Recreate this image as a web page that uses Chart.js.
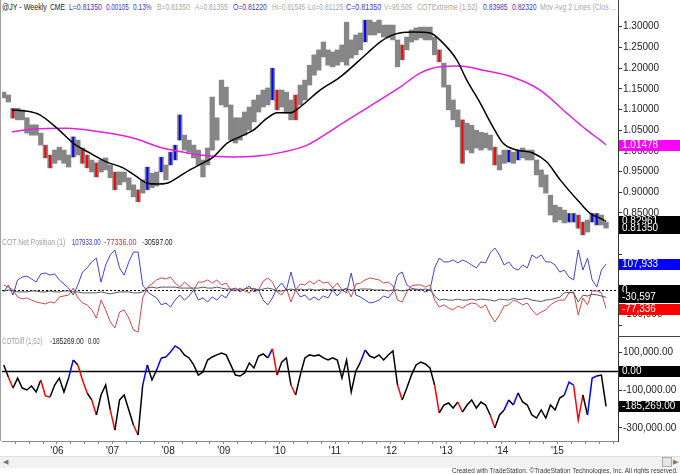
<!DOCTYPE html>
<html>
<head>
<meta charset="utf-8">
<title>JY weekly COT</title>
<script src="https://cdn.jsdelivr.net/npm/chart.js@4.4.1/dist/chart.umd.min.js"></script>
<style>
  body { margin: 0; background: #fff; }
  #wrap { position: relative; width: 680px; height: 474px; overflow: hidden; background: #fff;
          font-family: "Liberation Sans", Arial, sans-serif; }
  .t { position: absolute; font-size: 9px; line-height: 11px; white-space: nowrap; transform-origin: 0 50%; }
  canvas { position: absolute; left: 0; }
  .ln { position: absolute; background: #444; }
</style>
</head>
<body>
<div id="wrap">
  <div id="hdr"></div>
  <canvas id="price" width="680" height="222" style="top:16px"></canvas>
  <canvas id="cot" width="680" height="98" style="top:238px"></canvas>
  <canvas id="diff" width="680" height="138" style="top:336px"></canvas>
  <div class="ln" style="left:0;top:0;width:1px;height:441px;background:#a0a0a0"></div>
  <div class="ln" style="left:618px;top:0;width:1px;height:16px"></div>
  <div class="ln" style="left:618px;top:336px;width:62px;height:1px"></div>
  <div id="lblCot"></div>
  <div id="lblDiff"></div>
  <div style="position:absolute;left:0;top:456px;width:680px;height:11px;background:#f2f2f2;border-top:1px solid #e0e0e0"></div>
  <span style="position:absolute;left:3px;top:457px;font-size:7px;line-height:9px;color:#777">&#9664;</span>
  <span style="position:absolute;left:673px;top:457px;font-size:7px;line-height:9px;color:#777">&#9654;</span>
  <div style="position:absolute;left:662px;top:457px;width:8px;height:8px;border:1px solid #aaa;background:#e6e6e6"></div>
  <div id="credit"></div>
</div>
<script>
// monthly samples, first one is Jan 2005 (mid-month)
const START_YEAR = 2005;
const X_MIN = 2005.0108, X_MAX = 2016.0899;

// weekly bars summarised per month: high / low
const priceHigh = [
  1.142,1.135,1.103,1.103,1.099,1.080,1.063,1.063,1.043,1.014,0.990,1.002,
  1.009,1.002,0.990,1.034,1.026,1.007,0.990,0.978,0.971,0.978,0.983,0.966,
  0.949,0.949,0.949,0.935,0.918,0.906,0.930,0.961,0.946,0.949,0.985,0.966,
  0.997,1.014,1.087,1.038,1.026,1.014,1.002,0.978,1.007,1.130,1.080,1.171,
  1.154,1.111,1.080,1.080,1.094,1.106,1.123,1.135,1.147,1.152,1.200,1.147,
  1.147,1.142,1.123,1.135,1.159,1.171,1.207,1.232,1.244,1.263,1.244,1.239,
  1.244,1.256,1.311,1.268,1.280,1.285,1.316,1.316,1.311,1.316,1.304,1.304,
  1.304,1.268,1.256,1.275,1.292,1.297,1.299,1.299,1.299,1.275,1.244,1.212,
  1.159,1.123,1.099,1.075,1.067,1.062,1.050,1.045,1.043,1.038,1.009,0.990,
  1.002,1.002,0.997,1.002,1.007,1.002,1.002,0.978,0.954,0.942,0.893,0.869,
  0.864,0.857,0.849,0.849,0.845,0.828,0.833,0.849,0.849,0.845,0.828
];
const priceLow = [
  1.128,1.118,1.079,1.075,1.075,1.043,1.038,1.038,1.014,0.983,0.959,0.970,
  0.978,0.970,0.961,0.985,0.990,0.970,0.959,0.949,0.937,0.949,0.954,0.935,
  0.906,0.918,0.925,0.906,0.889,0.877,0.898,0.906,0.911,0.915,0.949,0.930,
  0.966,0.978,1.026,1.002,0.997,0.983,0.966,0.937,0.966,1.002,1.026,1.111,
  1.106,1.026,1.019,1.026,1.038,1.050,1.070,1.094,1.106,1.111,1.123,1.099,
  1.106,1.091,1.075,1.075,1.111,1.123,1.159,1.183,1.195,1.227,1.207,1.203,
  1.207,1.215,1.207,1.224,1.232,1.244,1.263,1.280,1.280,1.285,1.275,1.273,
  1.268,1.203,1.220,1.244,1.263,1.268,1.273,1.268,1.268,1.232,1.215,1.154,
  1.099,1.075,1.058,0.970,1.002,0.995,1.007,1.002,1.007,1.002,0.966,0.954,
  0.970,0.973,0.970,0.978,0.983,0.978,0.978,0.942,0.913,0.898,0.845,0.828,
  0.833,0.826,0.828,0.828,0.813,0.797,0.804,0.828,0.821,0.821,0.8135
];
const LAST_CLOSE = 0.8135;

// COTExtreme colouring (month indexes)
const redMonths = [2, 9, 10, 17, 18, 20, 24, 29, 59, 63, 86, 94, 99, 106, 124, 125];
const blueMonths = [15, 31, 34, 36, 37, 38, 58, 78, 109, 111, 122, 123, 127, 128];

// moving averages (decimal year, price)
const maFastT = [2005.19,2005.46,2005.69,2006.00,2006.29,2006.59,2006.90,2007.19,2007.44,2007.62,2007.80,2007.98,
  2008.16,2008.39,2008.63,2008.81,2009.06,2009.29,2009.53,2009.78,2009.96,2010.19,2010.37,2010.73,2011.09,2011.58,
  2011.81,2012.08,2012.40,2012.71,2012.94,2013.19,2013.37,2013.61,2013.84,2014.02,2014.27,2014.56,2014.81,2015.05,
  2015.41,2015.59,2015.77,2015.875];
const maFast = [1.099,1.096,1.087,1.055,1.019,0.995,0.973,0.959,0.937,0.922,0.920,0.922,
  0.935,0.954,0.971,0.985,1.019,1.034,1.050,1.079,1.092,1.092,1.106,1.147,1.178,1.236,
  1.263,1.282,1.287,1.285,1.261,1.220,1.171,1.116,1.058,1.019,1.002,0.995,0.973,0.930,
  0.874,0.849,0.837,0.82961];
const maSlowT = [2005.19,2005.57,2006.18,2006.77,2007.37,2007.85,2008.16,2008.57,2009.17,2009.65,2010.06,2010.50,
  2010.86,2011.09,2011.58,2012.17,2012.53,2012.89,2013.25,2013.66,2014.20,2014.69,2015.17,2015.53,2015.77,2015.875];
const maSlow = [1.046,1.053,1.055,1.046,1.031,1.009,1.000,0.990,0.985,0.988,0.997,1.014,
  1.043,1.063,1.104,1.154,1.188,1.203,1.205,1.195,1.178,1.147,1.091,1.050,1.026,1.01478];

// COT net positions, thousands of contracts
const netBlue = [
  -8,21,-21,42,54,58,46,33,67,71,62,67, 42,25,8,-21,21,75,92,117,133,33,104,146,
  167,92,62,117,158,158,21,-8,-21,-33,-62,-54, -71,-42,-21,-42,-25,0,-42,-33,-50,-29,-42,-21,
  -33,0,8,-8,4,17,-8,0,-42,-62,-33,8, 29,0,75,0,-29,-21,-42,-29,-42,-25,-33,0,
  -25,0,-12,71,-21,-29,-42,-54,-50,-42,-25,-33, -8,62,75,21,8,0,4,-8,0,92,133,117,
  117,125,113,125,117,104,92,117,113,154,175,146, 104,117,92,83,104,92,146,133,146,117,117,104,
  75,83,54,42,167,83,133,42,12,83,107.933
];
const netRed = [
  21,12,0,-29,-37,-33,-42,-50,-54,-58,-50,-54, -29,-25,-21,8,-33,-54,-62,-83,-117,-42,-83,-133,
  -158,-92,-83,-117,-167,-175,-33,12,25,42,50,46, 54,29,12,33,17,0,33,33,42,29,42,21,
  29,0,-4,8,-4,-12,8,0,37,50,33,-8, -21,8,-50,0,25,21,37,25,42,29,33,8,
  29,0,8,-29,25,29,42,50,46,42,29,33, 17,-42,-50,-8,17,21,21,12,21,-42,-71,-62,
  -75,-83,-67,-75,-62,-54,-58,-75,-62,-104,-133,-104, -67,-62,-42,-50,-62,-54,-83,-104,-92,-83,-62,-50,
  -42,-42,-12,-8,-104,-33,-62,-4,-4,-12,-77.336
];
const netBlack = [
  -4,0,-4,-8,-8,-8,-4,-4,-8,-8,-4,-8, -8,-4,-4,-8,-8,-12,-12,-12,-12,-8,-12,-16,
  -12,-8,-8,-8,-12,-12,-8,8,12,8,12,12, 12,12,8,8,8,8,8,12,8,8,12,8,
  4,4,4,0,4,8,4,0,4,8,4,-4, -4,0,4,0,4,0,4,0,0,4,0,4,
  0,0,4,0,0,4,4,4,0,0,0,-4, 0,0,-4,0,4,4,0,4,0,-25,-42,-38,
  -42,-42,-38,-42,-42,-38,-42,-38,-40,-42,-46,-38, -40,-42,-35,-40,-38,-35,-42,-45,-48,-42,-40,-35,
  -30,-12,-10,-12,-50,-22,-25,-18,-20,-25,-30.597
];
// COTDiff (1,52), thousands
const cotDiff = [
  35,-29,-88,-35,-88,-98,-77,-109,-45,-130,-135,-72, -35,-109,-35,61,35,-45,-114,-151,-231,-125,-72,-204,
  -311,-151,-125,-204,-284,-337,-72,35,-45,8,72,77, 104,136,120,88,72,35,-19,-3,61,77,88,98,
  88,35,-19,-24,-8,45,19,82,93,72,120,-19, 50,72,-72,-125,-19,72,88,82,88,72,61,72,
  61,-35,61,-109,3,50,114,82,72,88,61,88, 109,-72,-151,-88,-19,35,50,40,19,-72,-220,-178,
  -167,-194,-162,-215,-178,-151,-194,-162,-178,-231,-300,-231, -204,-151,-178,-114,-162,-178,-231,-247,-204,-247,-178,-204,
  -141,-125,-56,-72,-258,-125,-231,-35,-24,-19,-185.269
];

const priceTicks = [0.85,0.90,0.95,1.00,1.05,1.10,1.15,1.20,1.25,1.30];
const cotTicks = [150000,100000,0,-100000,-150000];
const cotLabelled = [100000,0,-100000];
const diffTicks = [100000,0,-100000,-300000];
const yearTicks = [2006,2007,2008,2009,2010,2011,2012,2013,2014,2015];
const yearLabels = ["'06","'07","'08","'09","'10","'11","'12","'13","'14","'15"];

// text, left, width, colour
const header = [
  ['@JY - Weekly', 2, 45, '#222'], ['CME', 50, 15, '#222'], ['L=0.81350', 69, 33, '#3a3ab8'], ['0.00105', 106, 23, '#3a3ab8'],
  ['0.13%', 133, 19, '#3a3ab8'], ['B=0.81350', 157, 33, '#a8a8a8'], ['A=0.81355', 195, 33, '#a8a8a8'], ['O=0.81220', 233, 34, '#3a3ab8'],
  ['Hi=0.81545', 272, 33, '#a8a8a8'], ['Lo=0.81125', 308, 35, '#a8a8a8'], ['C=0.81350', 346, 35, '#3a3ab8'], ['V=95,509', 384, 28, '#a8a8a8'],
  ['COTExtreme (1,52)', 417, 61, '#a8a8a8'], ['0.83985', 483, 25, '#3a3ab8'], ['0.82320', 512, 25, '#3a3ab8'],
  ['Mov Avg 2 Lines (Clos ...', 540, 76, '#a8a8a8']
];

const FONT = '"Liberation Sans", Arial, sans-serif';
Chart.defaults.font.family = FONT;
Chart.defaults.font.size = 10;

const monthX = i => START_YEAR + (i + 0.5) / 12;
const flagColor = (i, base) => redMonths.includes(i) ? '#ff0000' : blueMonths.includes(i) ? '#0000ff' : base;
const k = v => v * 1000;
const fmt0 = v => Math.round(v).toLocaleString('en-US');
const fmt2 = v => v.toLocaleString('en-US', { minimumFractionDigits: 2, maximumFractionDigits: 2 });

// squeeze each text run into the width it has in the original
function putText(parentId, items, top, size) {
  const p = document.getElementById(parentId);
  items.forEach(([txt, x, w, col]) => {
    const s = document.createElement('span');
    s.className = 't';
    s.style.left = x + 'px';
    s.style.top = top + 'px';
    s.style.color = col;
    if (size) s.style.fontSize = size + 'px';
    s.textContent = txt;
    p.appendChild(s);
    s.style.transform = 'scaleX(' + (w / s.offsetWidth).toFixed(3) + ')';
  });
}
putText('hdr', header, 2);
putText('lblCot', [
  ['COT Net Position (1)', 2, 63, '#a0a0a0'],
  [k(netBlue.at(-1)).toFixed(2), 72, 29, '#3a3ab8'],
  [k(netRed.at(-1)).toFixed(2), 104, 33, '#cc3333'],
  [k(netBlack.at(-1)).toFixed(2), 142, 31, '#222']
], 237);
putText('lblDiff', [
  ['COTDiff (1,52)', 2, 40, '#a0a0a0'],
  [k(cotDiff.at(-1)).toFixed(2), 50, 34, '#222'],
  [(0).toFixed(2), 88, 12, '#222']
], 336);
putText('credit', [
  ['Created with TradeStation. \u00a9TradeStation Technologies, Inc. All rights reserved.', 452, 226, '#333']
], 465, 8);

// horizontal reference lines
const refLines = {
  id: 'refLines',
  beforeDatasetsDraw(chart, args, opts) {
    const { ctx, chartArea } = chart, ys = chart.scales.y;
    (opts.lines || []).forEach(l => {
      const y = Math.round(ys.getPixelForValue(l.value)) + 0.5;
      ctx.save();
      ctx.strokeStyle = l.color; ctx.lineWidth = l.width; ctx.setLineDash(l.dash || []);
      ctx.beginPath(); ctx.moveTo(chartArea.left, y); ctx.lineTo(chartArea.right, y); ctx.stroke();
      ctx.restore();
    });
  }
};
// last-value boxes on the price axis
const valueBoxes = {
  id: 'valueBoxes',
  afterDraw(chart, args, opts) {
    const ctx = chart.ctx, ys = chart.scales.y;
    ctx.save();
    ctx.font = '10px ' + FONT;
    ctx.textBaseline = 'middle';
    (opts.boxes || []).forEach(b => {
      const y = Math.round(ys.getPixelForValue(b.value));
      ctx.fillStyle = b.bg;
      ctx.fillRect(ys.left + 1, y - 5, chart.width - ys.left - 1, 11);
      ctx.fillStyle = '#fff';
      ctx.fillText(b.text, ys.left + 4, y + 0.5);
    });
    ctx.restore();
  }
};

function yAxis(min, max, ticks, fmt) {
  return {
    position: 'right', min, max,
    afterFit(s) { s.width = 62; s.paddingTop = 0; s.paddingBottom = 0; },
    afterBuildTicks(s) { s.ticks = ticks.map(v => ({ value: v })); },
    ticks: { callback: fmt, color: '#222', padding: 1, font: { size: 10 } },
    grid: { drawOnChartArea: false, drawTicks: true, tickLength: 4, color: '#333' },
    border: { display: true, color: '#333' }
  };
}
const hiddenX = { type: 'linear', min: X_MIN, max: X_MAX, display: false, offset: false };
function baseOptions(padBottom, scales, pluginOpts) {
  return {
    responsive: false, animation: false, devicePixelRatio: 1,
    layout: { autoPadding: false, padding: { left: 2, right: 0, top: 0, bottom: padBottom } },
    plugins: Object.assign({ legend: { display: false }, tooltip: { enabled: false } }, pluginOpts),
    scales
  };
}

const flagged = i => redMonths.includes(i) || blueMonths.includes(i);

// ---- price panel
new Chart(document.getElementById('price'), {
  type: 'bar',
  data: {
    datasets: [
      {
        type: 'bar', order: 4, grouped: false, barPercentage: 1, categoryPercentage: 1,
        data: priceHigh.map((h, i) => ({ x: monthX(i), y: [priceLow[i], h] })),
        backgroundColor: '#868686'
      },
      {
        type: 'bar', order: 3, grouped: false, barPercentage: 0.45, categoryPercentage: 1,
        data: priceHigh.map((h, i) => ({ x: monthX(i), y: flagged(i) ? [priceLow[i], h] : null })),
        backgroundColor: priceHigh.map((h, i) => flagColor(i, '#868686'))
      },
      {
        type: 'line', order: 1, borderColor: '#e020e0', borderWidth: 1.5, pointRadius: 0,
        cubicInterpolationMode: 'monotone',
        data: maSlowT.map((t, i) => ({ x: t, y: maSlow[i] }))
      },
      {
        type: 'line', order: 0, borderColor: '#000', borderWidth: 1.5, pointRadius: 0,
        cubicInterpolationMode: 'monotone',
        data: maFastT.map((t, i) => ({ x: t, y: maFast[i] }))
      }
    ]
  },
  options: baseOptions(0, {
    x: hiddenX,
    y: yAxis(0.78961, 1.32585, priceTicks, v => v.toFixed(5))
  }, {
    valueBoxes: { boxes: [
      { value: maSlow.at(-1), text: maSlow.at(-1).toFixed(5), bg: '#ff00ff' },
      { value: maFast.at(-1), text: maFast.at(-1).toFixed(5), bg: '#000' },
      { value: LAST_CLOSE, text: LAST_CLOSE.toFixed(5), bg: '#000' }
    ] }
  }),
  plugins: [valueBoxes]
});

// ---- COT net position panel
const lineSet = (arr, color) => ({
  borderColor: color, borderWidth: 1, pointRadius: 0, tension: 0,
  data: arr.map((v, i) => ({ x: monthX(i), y: k(v) }))
});
new Chart(document.getElementById('cot'), {
  type: 'line',
  data: { datasets: [lineSet(netBlack, '#555'), lineSet(netRed, '#d04848'), lineSet(netBlue, '#4444c8')] },
  options: baseOptions(0, {
    x: hiddenX,
    y: yAxis(-191667, 216667, cotTicks, v => cotLabelled.includes(v) ? fmt0(v) : '')
  }, {
    refLines: { lines: [{ value: 0, color: '#000', width: 1, dash: [2, 2] }] },
    valueBoxes: { boxes: [
      { value: 0, text: '0', bg: '#000' },
      { value: k(netBlack.at(-1)), text: fmt0(k(netBlack.at(-1))), bg: '#000' },
      { value: k(netRed.at(-1)), text: fmt0(k(netRed.at(-1))), bg: '#ff0000' },
      { value: k(netBlue.at(-1)), text: fmt0(k(netBlue.at(-1))), bg: '#0000ff' }
    ] }
  }),
  plugins: [refLines, valueBoxes]
});

// ---- COTDiff panel with date axis
new Chart(document.getElementById('diff'), {
  type: 'line',
  data: { datasets: [{
    borderColor: '#000', borderWidth: 1.5, pointRadius: 0, tension: 0,
    segment: { borderColor: c => flagColor(c.p1DataIndex, '#000') },
    data: cotDiff.map((v, i) => ({ x: monthX(i), y: k(v) }))
  }] },
  options: baseOptions(16, {
    x: {
      type: 'linear', min: X_MIN, max: X_MAX, offset: false, position: 'bottom',
      afterFit(s) { s.height = 17; s.paddingLeft = 0; s.paddingRight = 0; },
      afterBuildTicks(s) {
        const t = [];
        for (let q = Math.ceil(X_MIN * 4); q <= Math.floor(X_MAX * 4); q++) t.push({ value: q / 4 });
        s.ticks = t;
      },
      ticks: {
        autoSkip: false, maxRotation: 0, padding: 1, color: '#222', font: { size: 10 },
        callback: v => { const j = yearTicks.indexOf(v); return j >= 0 ? yearLabels[j] : ''; }
      },
      grid: { drawOnChartArea: false, drawTicks: true, tickLength: 3, color: '#888' },
      border: { display: true, color: '#888' }
    },
    y: yAxis(-369100, 188500, diffTicks, v => v === 0 ? '' : fmt2(v))
  }, {
    refLines: { lines: [{ value: 0, color: '#000', width: 1.5 }] },
    valueBoxes: { boxes: [
      { value: 0, text: fmt2(0), bg: '#000' },
      { value: k(cotDiff.at(-1)), text: fmt2(k(cotDiff.at(-1))), bg: '#000' }
    ] }
  }),
  plugins: [refLines, valueBoxes]
});
</script>
</body>
</html>
